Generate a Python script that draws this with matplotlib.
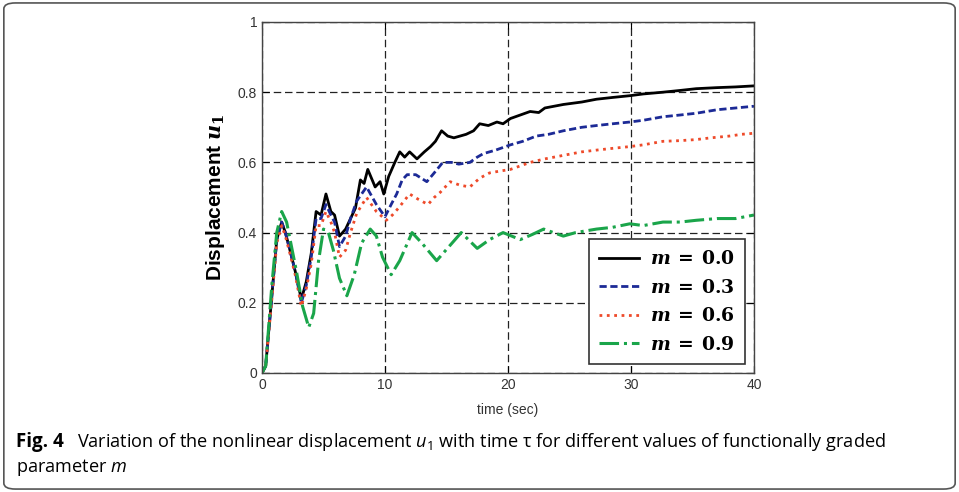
import matplotlib
matplotlib.use('Agg')
import matplotlib.pyplot as plt
from matplotlib.patches import FancyBboxPatch

plt.rcParams['mathtext.fontset'] = 'custom'
plt.rcParams['mathtext.rm'] = 'Open Sans'
plt.rcParams['mathtext.it'] = 'Open Sans:italic'
plt.rcParams['mathtext.bf'] = 'DejaVu Serif:bold'
plt.rcParams['mathtext.bfit'] = 'DejaVu Serif:italic:bold'

# data (time in sec, displacement u1)
t_m00 = [0, 0.3, 0.8, 1.2, 1.6, 1.9, 2.2, 2.7, 3.2, 3.6, 4.0, 4.4, 4.8, 5.2, 5.6, 5.9, 6.3,
         6.8, 7.2, 7.6, 8.0, 8.3, 8.6, 9.2, 9.6, 9.9, 10.3, 10.8, 11.2, 11.6, 12.0, 12.6, 13.2,
         13.7, 14.1, 14.6, 15.1, 15.6, 16.1, 16.6, 17.2, 17.7, 18.4, 19.1, 19.6, 20.2, 21.0,
         21.8, 22.5, 23.0, 24.5, 26.0, 27.2, 28.5, 29.9, 31.0, 32.6, 34.0, 35.3, 37.0, 38.5, 40.0]
u_m00 = [0, 0.02, 0.22, 0.38, 0.43, 0.40, 0.36, 0.29, 0.21, 0.26, 0.34, 0.46, 0.45, 0.51, 0.46, 0.45, 0.39,
         0.41, 0.44, 0.47, 0.55, 0.54, 0.58, 0.53, 0.545, 0.51, 0.56, 0.60, 0.63, 0.615, 0.63, 0.61, 0.63,
         0.645, 0.66, 0.69, 0.675, 0.67, 0.675, 0.68, 0.69, 0.71, 0.705, 0.715, 0.71, 0.725, 0.735,
         0.745, 0.742, 0.755, 0.765, 0.772, 0.78, 0.785, 0.79, 0.795, 0.80, 0.805, 0.81, 0.813, 0.815, 0.818]

t_m03 = [0, 0.3, 0.8, 1.2, 1.6, 1.9, 2.2, 2.7, 3.2, 3.6, 4.0, 4.4, 4.8, 5.2, 5.6, 5.9, 6.3,
         6.8, 7.2, 7.7, 8.5, 9.3, 10.0, 10.5, 10.95, 11.4, 11.8, 12.5, 13.4, 14.0, 14.7, 15.4,
         16.0, 16.9, 17.5, 18.0, 19.0, 20.2, 21.2, 22.3, 23.3, 24.5, 26.0, 27.2, 28.5, 29.9,
         31.0, 32.6, 34.0, 35.3, 37.0, 38.5, 40.0]
u_m03 = [0, 0.02, 0.22, 0.38, 0.43, 0.40, 0.36, 0.29, 0.20, 0.25, 0.33, 0.44, 0.44, 0.48, 0.45, 0.43, 0.36,
         0.39, 0.44, 0.49, 0.53, 0.48, 0.445, 0.48, 0.51, 0.55, 0.565, 0.565, 0.545, 0.57, 0.60, 0.60,
         0.595, 0.60, 0.615, 0.625, 0.635, 0.65, 0.66, 0.675, 0.68, 0.69, 0.70, 0.705, 0.71, 0.715,
         0.72, 0.73, 0.735, 0.74, 0.75, 0.755, 0.76]

t_m06 = [0, 0.3, 0.8, 1.2, 1.6, 1.9, 2.2, 2.7, 3.2, 3.6, 4.0, 4.4, 4.8, 5.2, 5.6, 5.9, 6.3,
         6.8, 7.2, 7.7, 8.5, 9.3, 10.1, 10.6, 11.1, 12.0, 12.7, 13.5, 14.0, 14.5, 15.3, 16.1,
         16.9, 17.7, 18.5, 19.3, 20.2, 21.0, 21.8, 23.0, 24.5, 26.0, 27.2, 28.5, 29.9, 31.0,
         32.6, 34.0, 35.3, 36.5, 38.0, 39.0, 40.0]
u_m06 = [0, 0.02, 0.21, 0.37, 0.42, 0.39, 0.35, 0.28, 0.19, 0.24, 0.31, 0.42, 0.42, 0.46, 0.43, 0.40, 0.33,
         0.35, 0.40, 0.455, 0.50, 0.46, 0.435, 0.45, 0.47, 0.51, 0.495, 0.48, 0.50, 0.515, 0.545, 0.535,
         0.53, 0.555, 0.57, 0.575, 0.58, 0.59, 0.60, 0.61, 0.62, 0.63, 0.635, 0.64, 0.645, 0.65,
         0.66, 0.662, 0.665, 0.67, 0.675, 0.68, 0.683]

t_m09 = [0, 0.3, 0.8, 1.2, 1.6, 2.0, 2.4, 2.8, 3.3, 3.8, 4.2, 4.6, 5.0, 5.4, 5.8, 6.3, 6.9,
         7.5, 8.1, 8.8, 9.3, 9.8, 10.5, 11.2, 12.2, 13.0, 14.2, 15.2, 16.2, 17.5, 18.5, 19.6,
         21.0, 22.0, 22.9, 24.5, 25.5, 27.2, 28.5, 29.9, 31.0, 32.6, 34.0, 35.3, 37.0, 38.5, 40.0]
u_m09 = [0, 0.02, 0.25, 0.40, 0.46, 0.43, 0.36, 0.29, 0.19, 0.13, 0.17, 0.32, 0.41, 0.40, 0.35, 0.27, 0.22,
         0.28, 0.37, 0.41, 0.39, 0.33, 0.28, 0.32, 0.40, 0.37, 0.32, 0.36, 0.40, 0.355, 0.38, 0.40,
         0.38, 0.395, 0.41, 0.39, 0.40, 0.41, 0.415, 0.425, 0.42, 0.43, 0.43, 0.435, 0.44, 0.44, 0.45]

labels = [r'$\mathbfit{m}\mathbf{\;=\;0.0}$', r'$\mathbfit{m}\mathbf{\;=\;0.3}$',
          r'$\mathbfit{m}\mathbf{\;=\;0.6}$', r'$\mathbfit{m}\mathbf{\;=\;0.9}$']

fig = plt.figure(figsize=(9.59, 4.92), dpi=100)

# rounded frame around the whole figure + caption
frame = FancyBboxPatch((0.004, 0.006), 0.992, 0.988, boxstyle='round,pad=0,rounding_size=0.012',
                       transform=fig.transFigure, fill=False, edgecolor='#555555', lw=1.2)
fig.patches.append(frame)

ax = fig.add_axes([0.2732, 0.2419, 0.513, 0.7134])

ax.plot(t_m00, u_m00, color='black', lw=2.0, ls='-', label=labels[0])
ax.plot(t_m03, u_m03, color='#1c2a96', lw=2.0, dashes=(2.6, 1.3), label=labels[1])
ax.plot(t_m06, u_m06, color='#ee4a2a', lw=2.0, ls=':', label=labels[2])
ax.plot(t_m09, u_m09, color='#1aa54a', lw=2.2, ls='-.', label=labels[3])

ax.set_xlim(0, 40)
ax.set_ylim(0, 1)
ax.set_xticks([0, 10, 20, 30, 40])
ax.set_yticks([0, 0.2, 0.4, 0.6, 0.8, 1])
ax.set_yticklabels(['0', '0.2', '0.4', '0.6', '0.8', '1'])
ax.grid(True, color='#222222', lw=0.9, ls=(0, (6, 3)))
ax.tick_params(direction='in', top=True, right=True, length=5, width=0.8,
               labelsize=10, labelcolor='#333333')
for lab in ax.get_xticklabels() + ax.get_yticklabels():
    lab.set_family('Liberation Sans')
for s in ax.spines.values():
    s.set_color('#444444')
    s.set_linewidth(1.0)

ax.set_xlabel('time (sec)', family='Liberation Sans', fontsize=10, color='#333333', labelpad=8)
ax.set_ylabel(r'Displacement $\mathbfit{u}_{\mathbf{1}}$', family='Liberation Sans',
              fontweight='bold', fontsize=15, labelpad=8)

leg = ax.legend(loc='lower right', bbox_to_anchor=(0.982, 0.026), borderaxespad=0,
                fancybox=False, edgecolor='#333333', framealpha=1, fontsize=13.5,
                handlelength=2.1, labelspacing=0.5, borderpad=0.55, handletextpad=0.6)
leg.get_frame().set_linewidth(1.2)

fig.text(0.0167, 0.092, 'Fig. 4', family='Open Sans', fontweight='bold', fontsize=13.5)
fig.text(0.080, 0.092, r'Variation of the nonlinear displacement $u_1$ with time τ for different values of functionally graded',
         family='Open Sans', fontsize=13.1)
fig.text(0.0167, 0.041, r'parameter $m$', family='Open Sans', fontsize=13.1)

fig.savefig('out.png', dpi=100)
